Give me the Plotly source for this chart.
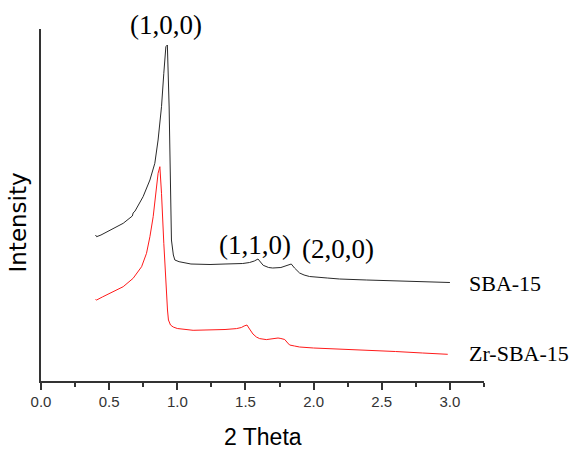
import plotly.graph_objects as go

# Small-angle XRD patterns (arbitrary intensity units, curves stacked)
sba_x = [0.400, 0.408, 0.440, 0.505, 0.603, 0.670, 0.676, 0.690, 0.749, 0.799,
         0.835, 0.859, 0.884, 0.901, 0.916, 0.927, 0.940, 0.957, 0.971, 0.982,
         1.013, 1.100, 1.240, 1.350, 1.480, 1.530, 1.565, 1.592, 1.610, 1.630,
         1.670, 1.700, 1.760, 1.800, 1.836, 1.860, 1.897, 1.930, 1.970, 2.100,
         2.190, 2.390, 2.600, 2.800, 3.000]
sba_y = [146, 144.3, 146, 151, 157.7, 165, 168, 170, 184.3, 201,
         217.7, 241, 274.3, 307.7, 334.3, 336, 274, 141, 126, 121,
         119.3, 117, 116.5, 117, 117.5, 118.5, 120, 122, 119, 115.7,
         113.5, 113, 113.5, 115, 117, 113, 108, 106, 104.5, 103,
         102, 101, 100, 99, 98.5]

zr_x = [0.400, 0.408, 0.450, 0.505, 0.603, 0.676, 0.738, 0.774, 0.799, 0.823,
        0.842, 0.859, 0.872, 0.884, 0.901, 0.916, 0.928, 0.935, 0.950, 0.970,
        1.000, 1.116, 1.250, 1.350, 1.434, 1.470, 1.490, 1.511, 1.530, 1.555,
        1.580, 1.604, 1.653, 1.700, 1.739, 1.760, 1.788, 1.810, 1.824, 1.860,
        1.897, 2.000, 2.200, 2.386, 2.600, 2.800, 2.984]
zr_y = [81.5, 81, 84, 87.7, 94.3, 102.7, 114.3, 127.7, 144.3, 164.3,
        187.7, 207.7, 214.3, 187.7, 137.7, 94.3, 71, 61, 56, 54,
        52.5, 50.7, 51, 51.5, 52.4, 53.5, 55, 56, 52, 47,
        44, 42.4, 41.4, 42, 43, 42.5, 41.5, 38, 36, 35,
        34, 33, 32, 30.7, 29.5, 28, 26.7]

tick_vals = [0.0, 0.5, 1.0, 1.5, 2.0, 2.5, 3.0]
tick_text = ["0.0", "0.5", "1.0", "1.5", "2.0", "2.5", "3.0"]

serif = "Liberation Serif, Times New Roman, serif"
sans = "Liberation Sans, Arial, sans-serif"

fig = go.Figure()
fig.add_trace(go.Scatter(x=sba_x, y=sba_y, mode="lines", name="SBA-15",
                         line=dict(color="#2a2a2a", width=1)))
fig.add_trace(go.Scatter(x=zr_x, y=zr_y, mode="lines", name="Zr-SBA-15",
                         line=dict(color="#ff1a1a", width=1)))

labels = [
    ("(1,0,0)", 0.2822, 1.0114, 27),
    ("(1,1,0)", 0.4831, 0.3864, 27),
    ("(2,0,0)", 0.6711, 0.3750, 27),
    ("SBA-15", 1.0474, 0.2784, 22),
    ("Zr-SBA-15", 1.0783, 0.0787, 22),
]
for text, ax, ay, size in labels:
    fig.add_annotation(text=text, x=ax, y=ay, xref="paper", yref="paper",
                       xanchor="center", yanchor="middle", showarrow=False,
                       font=dict(family=serif, size=size, color="#000000"))

# Axis titles
fig.add_annotation(text="Intensity", x=-0.0508, y=0.4517, xref="paper", yref="paper",
                   xanchor="center", yanchor="middle", showarrow=False, textangle=-90,
                   font=dict(family="DejaVu Sans, sans-serif", size=23, color="#000000"))
fig.add_annotation(text="2 Theta", x=0.501, y=-0.160, xref="paper", yref="paper",
                   xanchor="center", yanchor="middle", showarrow=False,
                   font=dict(family=sans, size=23, color="#000000"))

fig.update_layout(
    width=570, height=452,
    margin=dict(l=41, r=86, t=29, b=71),
    paper_bgcolor="white", plot_bgcolor="white",
    showlegend=False,
    xaxis=dict(
        range=[0, 3.25], showgrid=False, zeroline=False,
        showline=True, linecolor="#333333", linewidth=1.5,
        ticks="outside", ticklen=7, tickwidth=1.5, tickcolor="#333333",
        tickvals=tick_vals, ticktext=tick_text,
        tickfont=dict(family=sans, size=15, color="#333333"),
        ticklabelstandoff=-1,
        minor=dict(dtick=0.25, tick0=0, ticks="outside", ticklen=4,
                   tickwidth=1.5, tickcolor="#333333", showgrid=False),
    ),
    yaxis=dict(
        range=[0, 352], showgrid=False, zeroline=False,
        showline=True, linecolor="#333333", linewidth=1.5,
        ticks="", showticklabels=False,
    ),
)

fig.write_html("out.html")
